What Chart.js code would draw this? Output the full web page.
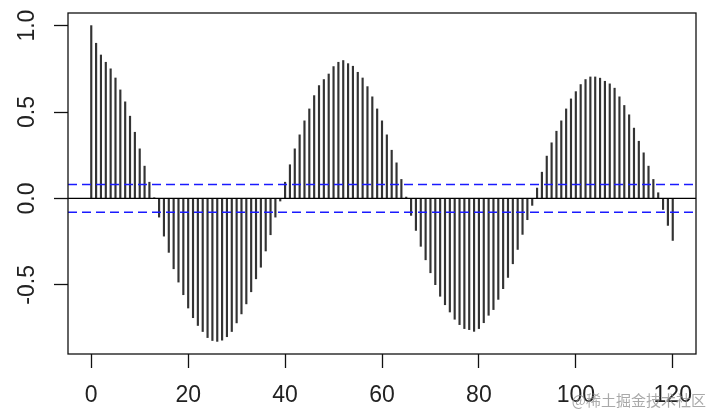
<!DOCTYPE html>
<html lang="en">
<head>
    <meta charset="UTF-8">
    <title>ACF</title>
    <script src="https://cdn.jsdelivr.net/npm/chart.js"></script>
    <style>
        html, body { margin: 0; padding: 0; background: #fff; }
    </style>
</head>
<body>
    <canvas id="acfChart" width="711" height="415"></canvas>

    <script>
        // autocorrelation for lags 0..120 (index = lag)
        const acfValues = [
            1.0, 0.898, 0.83, 0.788, 0.75, 0.697, 0.628, 0.559, 0.476, 0.383,
            0.287, 0.187, 0.094, 0.004, -0.108, -0.218, -0.312, -0.407, -0.484, -0.557,
            -0.634, -0.69, -0.735, -0.77, -0.805, -0.822, -0.827, -0.82, -0.80, -0.77,
            -0.72, -0.668, -0.61, -0.54, -0.465, -0.398, -0.304, -0.21, -0.108, -0.015,
            0.094, 0.195, 0.287, 0.368, 0.449, 0.518, 0.595, 0.653, 0.688, 0.72,
            0.763, 0.788, 0.798, 0.78, 0.765, 0.73, 0.697, 0.647, 0.588, 0.518,
            0.449, 0.368, 0.279, 0.206, 0.11, 0.008, -0.098, -0.185, -0.277, -0.355,
            -0.43, -0.499, -0.566, -0.615, -0.657, -0.699, -0.73, -0.753, -0.759, -0.769,
            -0.753, -0.719, -0.676, -0.643, -0.584, -0.522, -0.457, -0.378, -0.295, -0.208,
            -0.123, -0.04, 0.06, 0.152, 0.245, 0.322, 0.389, 0.449, 0.518, 0.576,
            0.618, 0.659, 0.688, 0.703, 0.703, 0.696, 0.678, 0.663, 0.638, 0.588,
            0.538, 0.484, 0.407, 0.331, 0.264, 0.187, 0.11, 0.033, -0.064, -0.156,
            -0.243
        ];
        const ciBound = 0.08;   // dashed significance limits
        const xTicks = [0, 20, 40, 60, 80, 100, 120];
        const yTicks = [-0.5, 0.0, 0.5, 1.0];
        const xRange = [-4.8, 124.8];
        const yRange = [-0.9, 1.073];

        const barPoints = acfValues.map((v, lag) => ({ x: lag, y: v }));
        const hLine = y => [{ x: xRange[0], y: y }, { x: xRange[1], y: y }];

        const labelFont = '23px "Liberation Sans", Arial, sans-serif';

        // box, tick labels and the watermark drawn on top
        const rAxesPlugin = {
            id: 'rAxes',
            afterDraw(chart) {
                const c = chart.ctx;
                const a = chart.chartArea;
                const xs = chart.scales.x, ys = chart.scales.y;
                c.save();
                c.strokeStyle = '#111';
                c.lineWidth = 1.3;
                c.strokeRect(a.left, a.top, a.right - a.left, a.bottom - a.top);

                c.fillStyle = '#222';
                c.font = labelFont;
                c.textAlign = 'center';
                c.textBaseline = 'middle';
                xTicks.forEach(t => {
                    c.fillText(String(t), xs.getPixelForValue(t), a.bottom + 42);
                });
                yTicks.forEach(t => {
                    c.save();
                    c.translate(a.left - 40, ys.getPixelForValue(t));
                    c.rotate(-Math.PI / 2);
                    c.fillText(t.toFixed(1), 0, 0);
                    c.restore();
                });

                c.fillStyle = 'rgba(140,140,140,0.75)';
                c.font = '15px "Noto Sans CJK SC", sans-serif';
                c.textAlign = 'right';
                c.fillText('@稀土掘金技术社区', 706, 400);
                c.restore();
            }
        };

        const ctx = document.getElementById('acfChart').getContext('2d');
        const acfChart = new Chart(ctx, {
            data: {
                datasets: [
                    {
                        type: 'bar',
                        data: barPoints,
                        backgroundColor: '#333',
                        barThickness: 1.5,
                        order: 3
                    },
                    {
                        type: 'line',
                        data: hLine(0),
                        borderColor: '#000',
                        borderWidth: 1.3,
                        pointRadius: 0,
                        order: 1
                    },
                    {
                        type: 'line',
                        data: hLine(ciBound),
                        borderColor: '#1a1aff',
                        borderWidth: 1.5,
                        borderDash: [9, 5],
                        pointRadius: 0,
                        order: 2
                    },
                    {
                        type: 'line',
                        data: hLine(-ciBound),
                        borderColor: '#1a1aff',
                        borderWidth: 1.5,
                        borderDash: [9, 5],
                        pointRadius: 0,
                        order: 2
                    }
                ]
            },
            options: {
                responsive: false,
                animation: false,
                devicePixelRatio: 1,
                layout: { padding: { left: 0, top: 13, right: 15, bottom: 0 } },
                plugins: { legend: { display: false }, tooltip: { enabled: false } },
                scales: {
                    x: {
                        type: 'linear',
                        offset: false,
                        min: xRange[0],
                        max: xRange[1],
                        afterBuildTicks: s => { s.ticks = xTicks.map(v => ({ value: v })); },
                        afterFit: s => { s.height = 61; },
                        ticks: { display: false },
                        grid: { offset: false, drawOnChartArea: false, drawTicks: true, tickLength: 14, tickColor: '#111', tickWidth: 1.3 },
                        border: { display: false }
                    },
                    y: {
                        type: 'linear',
                        min: yRange[0],
                        max: yRange[1],
                        afterBuildTicks: s => { s.ticks = yTicks.map(v => ({ value: v })); },
                        afterFit: s => { s.width = 68; },
                        ticks: { display: false },
                        grid: { drawOnChartArea: false, drawTicks: true, tickLength: 14, tickColor: '#111', tickWidth: 1.3 },
                        border: { display: false }
                    }
                }
            },
            plugins: [rAxesPlugin]
        });
    </script>
</body>
</html>
